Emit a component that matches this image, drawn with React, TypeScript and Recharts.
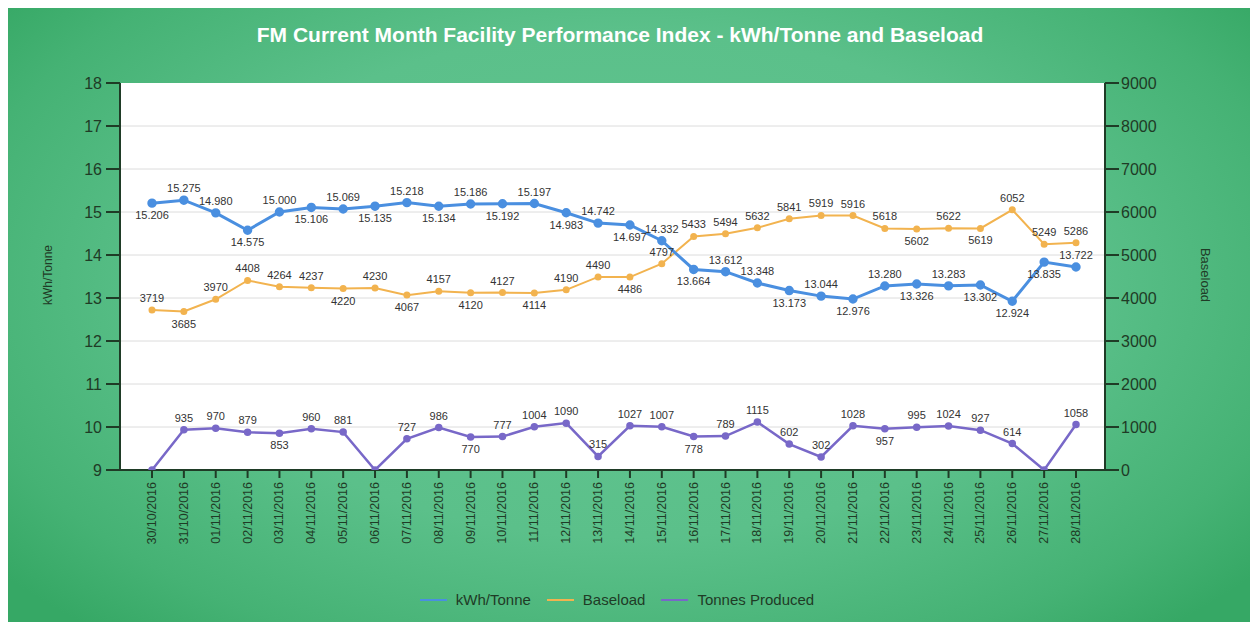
import {
  ComposedChart,
  Line,
  XAxis,
  YAxis,
  CartesianGrid,
  ReferenceLine,
  LabelList,
} from 'recharts';

const dates = [
  '30/10/2016', '31/10/2016', '01/11/2016', '02/11/2016', '03/11/2016', '04/11/2016',
  '05/11/2016', '06/11/2016', '07/11/2016', '08/11/2016', '09/11/2016', '10/11/2016',
  '11/11/2016', '12/11/2016', '13/11/2016', '14/11/2016', '15/11/2016', '16/11/2016',
  '17/11/2016', '18/11/2016', '19/11/2016', '20/11/2016', '21/11/2016', '22/11/2016',
  '23/11/2016', '24/11/2016', '25/11/2016', '26/11/2016', '27/11/2016', '28/11/2016',
];

const kwhPerTonne = [
  15.206, 15.275, 14.98, 14.575, 15.0, 15.106, 15.069, 15.135, 15.218, 15.134,
  15.186, 15.192, 15.197, 14.983, 14.742, 14.697, 14.332, 13.664, 13.612, 13.348,
  13.173, 13.044, 12.976, 13.28, 13.326, 13.283, 13.302, 12.924, 13.835, 13.722,
];

const baseload = [
  3719, 3685, 3970, 4408, 4264, 4237, 4220, 4230, 4067, 4157,
  4120, 4127, 4114, 4190, 4490, 4486, 4797, 5433, 5494, 5632,
  5841, 5919, 5916, 5618, 5602, 5622, 5619, 6052, 5249, 5286,
];

const tonnesProduced = [
  0, 935, 970, 879, 853, 960, 881, 0, 727, 986,
  770, 777, 1004, 1090, 315, 1027, 1007, 778, 789, 1115,
  602, 302, 1028, 957, 995, 1024, 927, 614, 0, 1058,
];

const leftTicks = [9, 9.5, 10, 10.5, 11, 11.5, 12, 12.5, 13, 13.5, 14, 14.5, 15, 15.5, 16, 16.5, 17, 17.5, 18];
const rightTicks = [0, 500, 1000, 1500, 2000, 2500, 3000, 3500, 4000, 4500, 5000, 5500, 6000, 6500, 7000, 7500, 8000, 8500, 9000];
const gridValues = [10, 11, 12, 13, 14, 15, 16, 17];

// which point labels sit under their marker
const kwhBelow = [0, 3, 5, 7, 9, 11, 13, 15, 17, 20, 22, 24, 26, 27, 28];
const baseBelow = [1, 6, 8, 10, 12, 15, 24, 26];
const tonnesBelow = [4, 10, 17, 23];

const BLUE = '#4a8fe0';
const ORANGE = '#f2b34f';
const PURPLE = '#7868c8';
const AXIS = '#1f3b26';

const data = dates.map((d, i) => ({
  date: d,
  kwh: kwhPerTonne[i],
  base: baseload[i],
  tonnes: tonnesProduced[i],
}));

const makeLabel = (below: number[], fmt: (v: number) => string, hideZero = false) =>
  (props: any) => {
    const { x, y, value, index } = props;
    if (hideZero && value === 0) return null;
    const under = below.includes(index);
    return (
      <text
        x={x}
        y={under ? y + 16 : y - 8}
        textAnchor="middle"
        fontSize={11}
        fill="#333"
        fontFamily="Liberation Sans, Arial, sans-serif"
      >
        {fmt(value)}
      </text>
    );
  };

const LeftTick = (props: any) => {
  const { x, y, payload } = props;
  const major = Number.isInteger(payload.value);
  return (
    <g>
      <line x1={x - (major ? 14 : 7)} x2={x} y1={y} y2={y} stroke={AXIS} strokeWidth={2} />
      {major && (
        <text x={x - 18} y={y} dy={6} textAnchor="end" fontSize={16} fill={AXIS}
          fontFamily="Liberation Sans, Arial, sans-serif">
          {payload.value}
        </text>
      )}
    </g>
  );
};

const RightTick = (props: any) => {
  const { x, y, payload } = props;
  const major = payload.value % 1000 === 0;
  return (
    <g>
      <line x1={x} x2={x + (major ? 14 : 7)} y1={y} y2={y} stroke={AXIS} strokeWidth={2} />
      {major && (
        <text x={x + 16} y={y} dy={6} textAnchor="start" fontSize={16} fill={AXIS}
          fontFamily="Liberation Sans, Arial, sans-serif">
          {payload.value}
        </text>
      )}
    </g>
  );
};

const BottomTick = (props: any) => {
  const { x, y, payload } = props;
  return (
    <g>
      <line x1={x} x2={x} y1={y} y2={y + 8} stroke={AXIS} strokeWidth={2} />
      <text
        x={0}
        y={0}
        transform={`translate(${x + 4},${y + 12}) rotate(-90)`}
        textAnchor="end"
        fontSize={12.5}
        fill={AXIS}
        fontFamily="Liberation Sans, Arial, sans-serif"
      >
        {payload.value}
      </text>
    </g>
  );
};

const legendItems = [
  { name: 'kWh/Tonne', color: BLUE },
  { name: 'Baseload', color: ORANGE },
  { name: 'Tonnes Produced', color: PURPLE },
];

export default function App() {
  return (
    <div
      style={{
        position: 'relative',
        width: 1242,
        height: 614,
        fontFamily: 'Liberation Sans, Arial, sans-serif',
        background:
          'radial-gradient(ellipse 65% 75% at 50% 45%, #62c591 0%, #5bc08a 55%, #45b274 85%, #36a865 100%)',
      }}
    >
      <div
        style={{
          position: 'absolute',
          top: 15,
          left: -9,
          width: '100%',
          textAlign: 'center',
          color: '#fff',
          fontWeight: 'bold',
          fontSize: 21,
        }}
      >
        FM Current Month Facility Performance Index - kWh/Tonne and Baseload
      </div>
      <div
        style={{
          position: 'absolute',
          left: 40,
          top: 267,
          transform: 'translate(-50%, -50%) rotate(-90deg)',
          fontSize: 12,
          color: AXIS,
          whiteSpace: 'nowrap',
        }}
      >
        kWh/Tonne
      </div>
      <div
        style={{
          position: 'absolute',
          left: 1197,
          top: 267,
          transform: 'translate(-50%, -50%) rotate(90deg)',
          fontSize: 13,
          color: AXIS,
          whiteSpace: 'nowrap',
        }}
      >
        Baseload
      </div>
      <ComposedChart
        width={1242}
        height={614}
        data={data}
        margin={{ top: 75, right: 73, left: 40, bottom: 62 }}
        style={{ position: 'absolute', top: 0, left: 0 }}
      >
        <CartesianGrid horizontal={false} vertical={false} fill="#ffffff" fillOpacity={1} />
        {gridValues.map((v) => (
          <ReferenceLine key={v} yAxisId="left" y={v} stroke="#dcdcdc" strokeWidth={1} />
        ))}
        <XAxis
          dataKey="date"
          interval={0}
          padding={{ left: 32, right: 29 }}
          height={90}
          tickSize={0}
          tickMargin={0}
          tick={<BottomTick />}
          axisLine={{ stroke: AXIS, strokeWidth: 2 }}
        />
        <YAxis
          yAxisId="left"
          orientation="left"
          domain={[9, 18]}
          ticks={leftTicks}
          width={72}
          tickSize={0}
          tickMargin={0}
          tick={<LeftTick />}
          axisLine={{ stroke: AXIS, strokeWidth: 2 }}
          allowDataOverflow
        />
        <YAxis
          yAxisId="right"
          orientation="right"
          domain={[0, 9000]}
          ticks={rightTicks}
          width={72}
          tickSize={0}
          tickMargin={0}
          tick={<RightTick />}
          axisLine={{ stroke: AXIS, strokeWidth: 2 }}
          allowDataOverflow
        />
        <Line
          yAxisId="right"
          dataKey="tonnes"
          stroke={PURPLE}
          strokeWidth={2.5}
          dot={{ r: 2.5, fill: PURPLE, stroke: PURPLE }}
          isAnimationActive={false}
        >
          <LabelList dataKey="tonnes" content={makeLabel(tonnesBelow, (v) => String(v), true)} />
        </Line>
        <Line
          yAxisId="right"
          dataKey="base"
          stroke={ORANGE}
          strokeWidth={2}
          dot={{ r: 2.5, fill: ORANGE, stroke: ORANGE }}
          isAnimationActive={false}
        >
          <LabelList dataKey="base" content={makeLabel(baseBelow, (v) => String(v))} />
        </Line>
        <Line
          yAxisId="left"
          dataKey="kwh"
          stroke={BLUE}
          strokeWidth={3}
          dot={{ r: 3.2, fill: BLUE, stroke: BLUE }}
          isAnimationActive={false}
        >
          <LabelList dataKey="kwh" content={makeLabel(kwhBelow, (v) => v.toFixed(3))} />
        </Line>
      </ComposedChart>
      <div
        style={{
          position: 'absolute',
          top: 583,
          left: -12,
          width: '100%',
          display: 'flex',
          justifyContent: 'center',
          gap: 16,
          fontSize: 15,
          color: AXIS,
        }}
      >
        {legendItems.map((it) => (
          <div key={it.name} style={{ display: 'flex', alignItems: 'center', gap: 9 }}>
            <span style={{ display: 'inline-block', width: 27, height: 2, background: it.color }} />
            <span>{it.name}</span>
          </div>
        ))}
      </div>
    </div>
  );
}
